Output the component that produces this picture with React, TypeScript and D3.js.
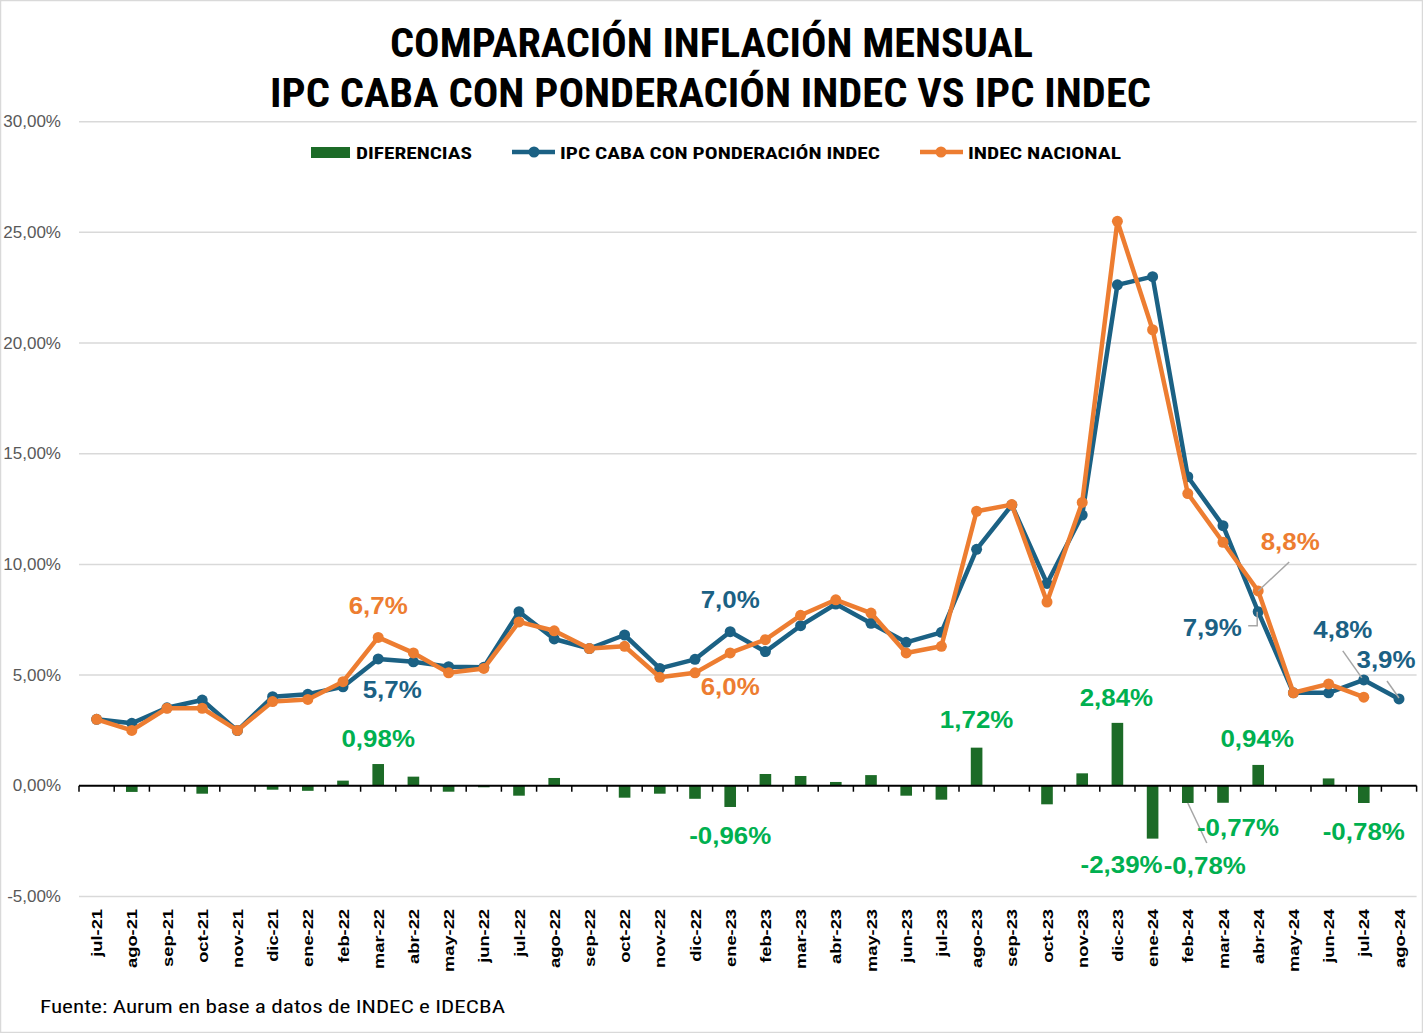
import React from "react";
import * as d3 from "d3";

const categories = ["jul-21","ago-21","sep-21","oct-21","nov-21","dic-21","ene-22","feb-22","mar-22","abr-22","may-22","jun-22","jul-22","ago-22","sep-22","oct-22","nov-22","dic-22","ene-23","feb-23","mar-23","abr-23","may-23","jun-23","jul-23","ago-23","sep-23","oct-23","nov-23","dic-23","ene-24","feb-24","mar-24","abr-24","may-24","jun-24","jul-24","ago-24"];

const cabaValues: (number | null)[] = [3.0,2.82,3.52,3.87,2.49,4.02,4.13,4.47,5.73,5.6,5.38,5.35,7.86,6.63,6.2,6.81,5.3,5.71,6.96,6.06,7.23,8.21,7.34,6.48,6.93,10.68,12.68,9.14,12.23,22.63,23.0,13.96,11.75,7.86,4.2,4.2,4.78,3.92];

const indecValues: (number | null)[] = [3.0,2.5,3.5,3.5,2.5,3.8,3.9,4.7,6.7,6.0,5.1,5.3,7.4,7.0,6.2,6.3,4.9,5.1,6.0,6.6,7.7,8.4,7.8,6.0,6.3,12.4,12.7,8.3,12.8,25.5,20.6,13.2,11.0,8.8,4.2,4.6,4.0,null];

const diffValues: (number | null)[] = [0,-0.28,0,-0.36,0,-0.18,-0.23,0.23,0.98,0.41,-0.27,-0.07,-0.45,0.35,-0.01,-0.54,-0.36,-0.59,-0.96,0.53,0.44,0.17,0.48,-0.45,-0.63,1.72,0.02,-0.84,0.56,2.84,-2.39,-0.78,-0.77,0.94,0,0.33,-0.78,null];

const yTicks = [-5,0,5,10,15,20,25,30];

const titleLines = ["COMPARACIÓN INFLACIÓN MENSUAL","IPC CABA CON PONDERACIÓN INDEC VS IPC INDEC"];
const legendLabels = ["DIFERENCIAS","IPC CABA CON PONDERACIÓN INDEC","INDEC NACIONAL"];
const sourceText = "Fuente: Aurum en base a datos de INDEC e IDECBA";

// Data-label annotations: which series/category gets a label
const lineLabels = [
  { series: "indec", cat: "mar-22" },
  { series: "caba", cat: "mar-22" },
  { series: "caba", cat: "ene-23" },
  { series: "indec", cat: "ene-23" },
  { series: "indec", cat: "abr-24" },
  { series: "caba", cat: "abr-24" },
  { series: "caba", cat: "jul-24" },
  { series: "caba", cat: "ago-24" },
];
const diffLabels = ["mar-22","ene-23","ago-23","dic-23","ene-24","feb-24","mar-24","abr-24","jul-24"];

// layout offsets (label center relative to anchor point)
const lineLabelLayout: Record<string, { dx: number; dy: number; leader?: number[][] }> = {
  "indec|mar-22": { dx: 0, dy: -32 },
  "caba|mar-22": { dx: 14, dy: 30 },
  "caba|ene-23": { dx: 0, dy: -32 },
  "indec|ene-23": { dx: 0, dy: 33 },
  "indec|abr-24": { dx: 32, dy: -50, leader: [[31, -29], [0, 0]] },
  "caba|abr-24": { dx: -46, dy: 16, leader: [[-10, 14], [-1, 14], [-1, 0]] },
  "caba|jul-24": { dx: -21, dy: -51, leader: [[-21, -29], [-2, -2]] },
  "caba|ago-24": { dx: -13, dy: -40, leader: [[-12, -18], [0, -1]] },
};
const diffLabelLayout: Record<string, { dx: number; dy: number; leader?: number[][] }> = {
  "mar-22": { dx: 0, dy: -26 },
  "ene-23": { dx: 0, dy: 28 },
  "ago-23": { dx: 0, dy: -28 },
  "dic-23": { dx: -1, dy: -26 },
  "ene-24": { dx: -31, dy: 26 },
  "feb-24": { dx: 17, dy: 62, leader: [[0, 0], [19, 40]] },
  "mar-24": { dx: 15, dy: 25 },
  "abr-24": { dx: -1, dy: -27 },
  "jul-24": { dx: 0, dy: 28 },
};

const W = 1423, H = 1033;
const BLUE = "#1b6184";
const ORANGE = "#ed7d31";
const BAR_GREEN = "#1c6b27";
const LABEL_GREEN = "#00b050";
const GRID = "#d9d9d9";
const FONT = "'Liberation Sans', Arial, sans-serif";
const NARROW = "'Liberation Sans Narrow', 'Roboto Condensed', 'Liberation Sans', Arial, sans-serif";

const fmt = (v: number, d: number) => v.toFixed(d).replace(".", ",") + "%";

export default function App() {
  const x = d3.scaleBand<string>().domain(categories).range([79, 1416.6]).padding(0);
  const y = d3.scaleLinear().domain([-5, 30]).range([896.4, 121.7]);
  const step = x.step();
  const cx = (c: string) => (x(c) as number) + step / 2;
  const barW = step * 0.33;

  const makeLine = (vals: (number | null)[]) =>
    d3.line<number | null>()
      .defined((d) => d != null)
      .x((_, i) => cx(categories[i]))
      .y((d) => y(d as number))(vals) || "";

  const seriesVals: Record<string, (number | null)[]> = { caba: cabaValues, indec: indecValues };
  const seriesColor: Record<string, string> = { caba: BLUE, indec: ORANGE };

  const label = (key: string, px: number, py: number, text: string, color: string) => (
    <text key={key} transform={`translate(${px},${py}) scale(1.08,1)`} textAnchor="middle" dominantBaseline="central"
      fontFamily={FONT} fontWeight="bold" fontSize={24} fill={color}>{text}</text>
  );

  return (
    <svg width={W} height={H} style={{ position: "absolute", left: 0, top: 0, background: "#fff" }}>
      <rect x={0.5} y={0.5} width={W - 1} height={H - 1} fill="#fff" stroke={GRID} strokeWidth={1.5} />

      {/* Title */}
      <text x={711.5} y={57} textAnchor="middle" fontFamily={NARROW} fontWeight="bold" fontSize={41}
        textLength={643} lengthAdjust="spacingAndGlyphs" fill="#000">{titleLines[0]}</text>
      <text x={710.5} y={107} textAnchor="middle" fontFamily={NARROW} fontWeight="bold" fontSize={41}
        textLength={881} lengthAdjust="spacingAndGlyphs" fill="#000">{titleLines[1]}</text>

      {/* Legend */}
      <rect x={311} y={147} width={39} height={11} fill={BAR_GREEN} />
      <text x={356} y={158.5} fontFamily={NARROW} fontWeight="bold" fontSize={17} textLength={116} lengthAdjust="spacingAndGlyphs">{legendLabels[0]}</text>
      <line x1={512} x2={555} y1={152} y2={152} stroke={BLUE} strokeWidth={4.5} />
      <circle cx={534} cy={152} r={5.5} fill={BLUE} />
      <text x={560} y={158.5} fontFamily={NARROW} fontWeight="bold" fontSize={17} textLength={320} lengthAdjust="spacingAndGlyphs">{legendLabels[1]}</text>
      <line x1={920} x2={963} y1={152} y2={152} stroke={ORANGE} strokeWidth={4.5} />
      <circle cx={941} cy={152} r={5.5} fill={ORANGE} />
      <text x={968} y={158.5} fontFamily={NARROW} fontWeight="bold" fontSize={17} textLength={153} lengthAdjust="spacingAndGlyphs">{legendLabels[2]}</text>

      {/* Gridlines and y labels */}
      {yTicks.map((t) => (
        <g key={t}>
          {t !== 0 && <line x1={79} x2={1416.6} y1={y(t)} y2={y(t)} stroke={GRID} strokeWidth={1.5} />}
          <text x={61} y={y(t)} textAnchor="end" dominantBaseline="central" fontFamily={FONT} fontSize={17} fill="#595959">
            {t.toFixed(2).replace(".", ",") + "%"}
          </text>
        </g>
      ))}

      {/* Bars */}
      {diffValues.map((v, i) => v == null || v === 0 ? null : (
        <rect key={i} x={cx(categories[i]) - barW / 2} y={Math.min(y(v), y(0))} width={barW}
          height={Math.abs(y(v) - y(0))} fill={BAR_GREEN} />
      ))}

      {/* X axis */}
      <line x1={79} x2={1416.6} y1={y(0)} y2={y(0)} stroke="#000" strokeWidth={2} />
      {d3.range(categories.length + 1).map((i) => {
        const xx = 79 + i * step;
        return <line key={i} x1={xx} x2={xx} y1={y(0)} y2={y(0) + 6} stroke="#000" strokeWidth={1.5} />;
      })}
      {categories.map((c) => (
        <text key={c} transform={`translate(${cx(c) + 5.5},909) rotate(-90) scale(1.22,1)`} textAnchor="end"
          fontFamily={FONT} fontWeight="bold" fontSize={15} fill="#000">{c}</text>
      ))}

      {/* Lines */}
      <path d={makeLine(cabaValues)} fill="none" stroke={BLUE} strokeWidth={4.5} strokeLinejoin="round" />
      {cabaValues.map((v, i) => v == null ? null : (
        <circle key={i} cx={cx(categories[i])} cy={y(v)} r={5.5} fill={BLUE} />
      ))}
      <path d={makeLine(indecValues)} fill="none" stroke={ORANGE} strokeWidth={4.5} strokeLinejoin="round" />
      {indecValues.map((v, i) => v == null ? null : (
        <circle key={i} cx={cx(categories[i])} cy={y(v)} r={5.5} fill={ORANGE} />
      ))}

      {/* Line data labels */}
      {lineLabels.map(({ series, cat }) => {
        const idx = categories.indexOf(cat);
        const v = seriesVals[series][idx] as number;
        const px = cx(cat), py = y(v);
        const lay = lineLabelLayout[series + "|" + cat];
        return (
          <g key={series + cat}>
            {lay.leader && (
              <polyline points={lay.leader.map(([a, b]) => `${px + a},${py + b}`).join(" ")}
                fill="none" stroke="#a6a6a6" strokeWidth={1.5} />
            )}
            {label("t", px + lay.dx, py + lay.dy, fmt(v, 1), seriesColor[series])}
          </g>
        );
      })}

      {/* Diff data labels */}
      {diffLabels.map((cat) => {
        const idx = categories.indexOf(cat);
        const v = diffValues[idx] as number;
        const px = cx(cat), py = y(v);
        const lay = diffLabelLayout[cat];
        return (
          <g key={"d" + cat}>
            {lay.leader && (
              <polyline points={lay.leader.map(([a, b]) => `${px + a},${py + b}`).join(" ")}
                fill="none" stroke="#a6a6a6" strokeWidth={1.5} />
            )}
            {label("t", px + lay.dx, py + lay.dy, fmt(v, 2), LABEL_GREEN)}
          </g>
        );
      })}

      {/* Source */}
      <text x={40} y={1013} fontFamily={NARROW} fontSize={18} textLength={465} lengthAdjust="spacingAndGlyphs" fill="#000">{sourceText}</text>
    </svg>
  );
}
